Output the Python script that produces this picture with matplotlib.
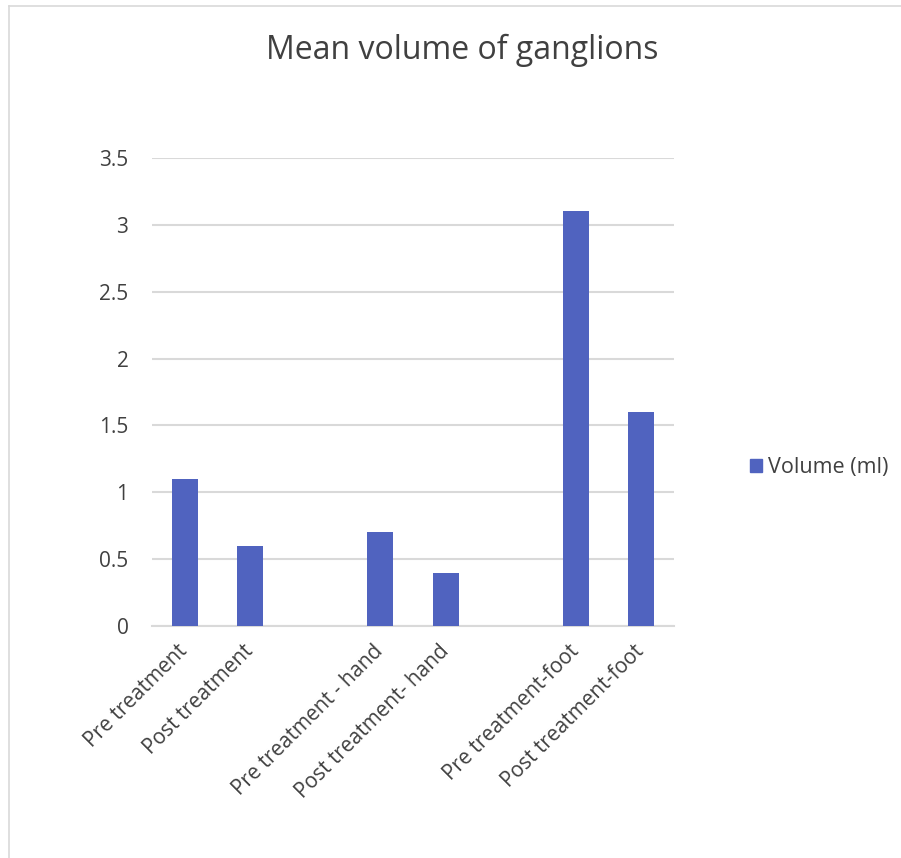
import matplotlib
matplotlib.use("Agg")
import matplotlib.pyplot as plt
from matplotlib.lines import Line2D
from matplotlib.patches import Patch

plt.rcParams['font.family'] = ['Open Sans', 'DejaVu Sans']

categories = ["Pre treatment", "Post treatment", "",
              "Pre treatment - hand", "Post treatment- hand", "",
              "Pre treatment-foot", "Post treatment-foot"]
volumes = [1.1, 0.6, 0.0, 0.7, 0.4, 0.0, 3.1, 1.6]
series_name = "Volume (ml)"
title = "Mean volume of ganglions"
yticks = [0, 0.5, 1, 1.5, 2, 2.5, 3, 3.5]

bar_color = "#5063BF"
grid_color = "#D9D9D9"
text_color = "#404040"

W, H = 901, 858
fig = plt.figure(figsize=(W / 100, H / 100), dpi=100)
fig.patch.set_facecolor("white")

ax = fig.add_axes([152 / W, 1 - 626 / H, (674 - 152) / W, (626 - 158) / H])
x = list(range(len(categories)))
ax.bar(x, volumes, width=0.4, color=bar_color, zorder=3)

ax.set_xlim(-0.5, len(categories) - 0.5)
ax.set_ylim(0, 3.5)
ax.set_yticks(yticks)
ax.set_yticklabels([f"{t:g}" for t in yticks], fontsize=15, color=text_color)
ax.yaxis.grid(True, color=grid_color, linewidth=1.5, zorder=0)
ax.tick_params(axis="y", length=0, pad=17)
ax.tick_params(axis="x", length=0, pad=16)
ax.set_xticks(x)
ax.set_xticklabels(categories, rotation=45, ha="right", va="center",
                   rotation_mode="anchor", fontsize=15, color=text_color)
for side in ["top", "right", "left"]:
    ax.spines[side].set_visible(False)
ax.spines["bottom"].set_color(grid_color)
ax.spines["bottom"].set_linewidth(1.5)

fig.text(462 / W, 1 - 50 / H, title, ha="center", va="center",
         fontsize=23, color=text_color)

handle = Patch(facecolor=bar_color, edgecolor=bar_color)
fig.legend([handle], [series_name], loc="center left",
           bbox_to_anchor=(750 / W, 1 - 468 / H), frameon=False,
           borderpad=0, borderaxespad=0,
           fontsize=15.5, handlelength=0.56, handleheight=0.56, handletextpad=0.28,
           labelcolor=text_color)

# frame lines along top and left edges
fig.add_artist(Line2D([9 / W, 1], [1 - 6 / H, 1 - 6 / H], color=grid_color,
                      linewidth=1.2, transform=fig.transFigure))
fig.add_artist(Line2D([9 / W, 9 / W], [0, 1 - 6 / H], color=grid_color,
                      linewidth=1.2, transform=fig.transFigure))

fig.savefig("out.png", dpi=100)
